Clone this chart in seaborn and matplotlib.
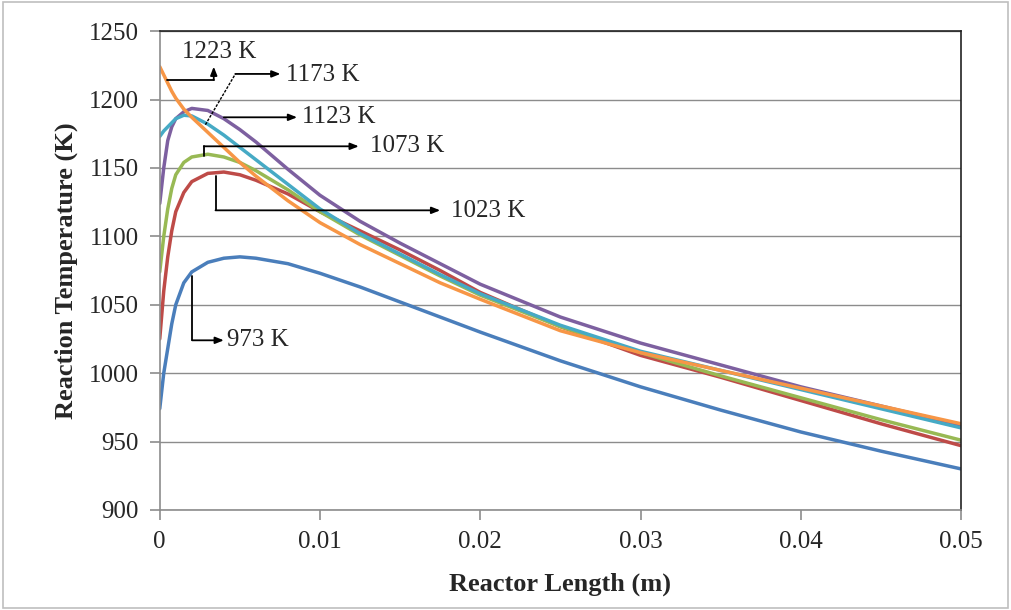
import numpy as np
import pandas as pd
import matplotlib
matplotlib.use("Agg")
import matplotlib.pyplot as plt
from matplotlib.patches import Rectangle
import seaborn as sns

sns.set_style("white")
plt.rcParams['font.family'] = ['Liberation Serif', 'DejaVu Serif']

# reactor length (m)
length = [0, 0.00025, 0.0005, 0.00075, 0.001, 0.0015, 0.002, 0.003, 0.004, 0.005,
          0.006, 0.008, 0.010, 0.0125, 0.015, 0.0175, 0.020, 0.025, 0.030,
          0.035, 0.040, 0.045, 0.050]

# reaction temperature (K) for each inlet temperature
t973 = [974, 1000, 1018, 1036, 1050, 1066, 1074, 1081, 1084, 1085, 1084, 1080,
        1073, 1063, 1052, 1041, 1030, 1009, 990, 973, 957, 943, 930]
t1023 = [1025, 1060, 1085, 1104, 1118, 1132, 1140, 1146, 1147, 1145, 1141, 1131,
         1118, 1104, 1090, 1075, 1059, 1034, 1013, 997, 980, 963, 947]
t1073 = [1074, 1100, 1120, 1135, 1145, 1154, 1158, 1160, 1158, 1154, 1148, 1134,
         1118, 1101, 1086, 1071, 1057, 1034, 1015, 998, 982, 966, 951]
t1123 = [1124, 1150, 1170, 1180, 1186, 1191, 1193.5, 1192, 1186, 1178, 1169, 1149,
         1130, 1111, 1095, 1080, 1065, 1041, 1022, 1006, 990, 976, 962]
t1173 = [1173, 1177, 1180, 1183, 1186, 1188.5, 1188, 1182, 1174, 1165, 1156, 1138,
         1120, 1102, 1087, 1072, 1058, 1035, 1016, 1002, 988, 974, 960]
t1223 = [1224, 1218, 1212, 1206, 1201, 1193, 1187, 1176, 1165, 1154, 1144, 1126,
         1110, 1094, 1080, 1066, 1054, 1031, 1015, 1002, 989, 976, 963]

labels = ["973 K", "1023 K", "1073 K", "1123 K", "1173 K", "1223 K"]
colors = ["#4A7EBB", "#BE4B48", "#98B954", "#7D60A0", "#46AAC5", "#F79646"]

df = pd.concat([
    pd.DataFrame({"x": length, "T": t, "series": lab})
    for t, lab in zip([t973, t1023, t1073, t1123, t1173, t1223], labels)
])

fig = plt.figure(figsize=(10.11, 6.10), dpi=100)
ax = fig.add_axes([0.158, 0.164, 0.7926, 0.785])

sns.lineplot(data=df, x="x", y="T", hue="series", palette=colors,
             hue_order=labels, linewidth=2.5, legend=False, ax=ax,
             estimator=None, sort=False)

ax.set_xlim(0, 0.05)
ax.set_ylim(900, 1250)
ax.set_xticks(np.arange(0, 0.051, 0.01))
ax.set_xticklabels(["0", "0.01", "0.02", "0.03", "0.04", "0.05"])
ax.set_yticks(np.arange(900, 1251, 50))
ax.yaxis.grid(True, color="#8c8c8c", linewidth=1)
ax.set_axisbelow(True)

for side in ["left", "bottom"]:
    ax.spines[side].set_color("#8c8c8c")
    ax.spines[side].set_linewidth(1.2)
for side in ["top", "right"]:
    ax.spines[side].set_color("#222222")
    ax.spines[side].set_linewidth(1.2)

ax.tick_params(axis="both", direction="out", length=7, width=1.2,
               color="#8c8c8c", labelsize=18, pad=8)
ax.tick_params(left=True, bottom=True)

ax.set_xlabel("Reactor Length (m)", fontsize=19, fontweight="bold", labelpad=14)
ax.set_ylabel("Reaction Temperature (K)", fontsize=19, fontweight="bold", labelpad=8)

# annotation callouts
arr = dict(arrowstyle="-|>,head_length=0.5,head_width=0.2", color="black",
           lw=1.3, shrinkA=0, shrinkB=0)
seg = dict(color="black", lw=1.3)
fs = 18

# 1223 K
ax.plot([0.00046, 0.00337], [1214.3, 1214.3], **seg)
ax.annotate("", xy=(0.00337, 1224), xytext=(0.00337, 1214.3), arrowprops=arr)
ax.text(0.0037, 1235, "1223 K", fontsize=fs, ha="center", va="center")

# 1173 K
ax.plot([0.00285, 0.00472], [1181.6, 1218.7], color="black", lw=1.0,
        linestyle=(0, (2, 1)))
ax.annotate("", xy=(0.00753, 1218.7), xytext=(0.00472, 1218.7), arrowprops=arr)
ax.text(0.0079, 1218, "1173 K", fontsize=fs, ha="left", va="center")

# 1123 K
ax.annotate("", xy=(0.00857, 1187), xytext=(0.0040, 1187), arrowprops=arr)
ax.text(0.0089, 1187, "1123 K", fontsize=fs, ha="left", va="center")

# 1073 K
ax.plot([0.00275, 0.00275], [1158.5, 1165.8], **seg)
ax.annotate("", xy=(0.01242, 1165.8), xytext=(0.00275, 1165.8), arrowprops=arr)
ax.text(0.0131, 1166, "1073 K", fontsize=fs, ha="left", va="center")

# 1023 K
ax.plot([0.00348, 0.00348], [1144, 1119], **seg)
ax.annotate("", xy=(0.0175, 1119), xytext=(0.00348, 1119), arrowprops=arr)
ax.text(0.0182, 1118.5, "1023 K", fontsize=fs, ha="left", va="center")

# 973 K
ax.plot([0.00202, 0.00202], [1071, 1024], **seg)
ax.annotate("", xy=(0.0040, 1024), xytext=(0.00202, 1024), arrowprops=arr)
ax.text(0.0042, 1024, "973 K", fontsize=fs, ha="left", va="center")

# chart border
fig.patches.append(Rectangle((0.003, 0.004), 0.994, 0.992, transform=fig.transFigure,
                             fill=False, edgecolor="#bfbfbf", linewidth=1.2))

fig.savefig("out.png", dpi=100)
